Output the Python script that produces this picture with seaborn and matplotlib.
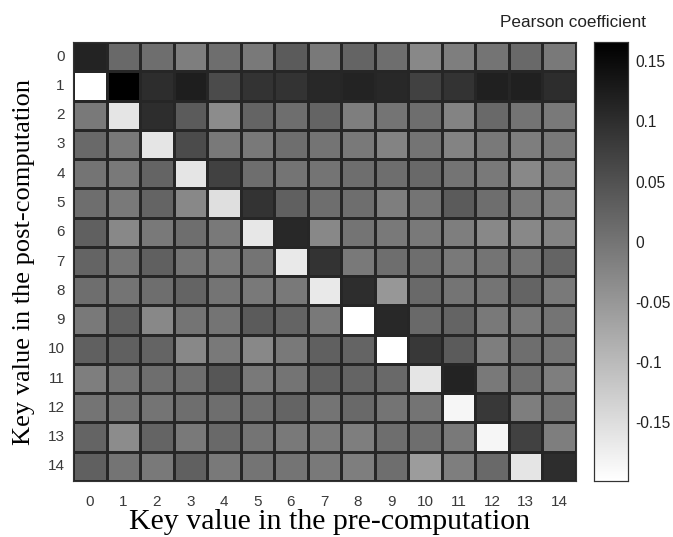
import numpy as np
import pandas as pd
import matplotlib
matplotlib.use("Agg")
import matplotlib.pyplot as plt
import seaborn as sns

# ---- data (Pearson coefficient, rows = post-computation key, cols = pre-computation key)
pre_keys = [str(i) for i in range(15)]
post_keys = [str(i) for i in range(15)]

row_00 = [0.115, 0.015, 0.008, -0.014, 0.008, -0.007, 0.036, -0.007, 0.022, 0.008, -0.028, -0.014, 0.000, 0.015, -0.007]
row_01 = [-0.200, 0.165, 0.101, 0.122, 0.058, 0.093, 0.093, 0.108, 0.115, 0.108, 0.072, 0.093, 0.119, 0.119, 0.101]
row_02 = [-0.007, -0.161, 0.101, 0.036, -0.035, 0.022, 0.008, 0.022, -0.014, 0.000, 0.008, -0.021, 0.015, 0.000, -0.007]
row_03 = [0.015, -0.007, -0.161, 0.058, -0.007, -0.007, 0.008, 0.000, -0.007, -0.021, 0.000, -0.021, -0.007, -0.014, -0.007]
row_04 = [0.000, -0.007, 0.022, -0.161, 0.072, 0.008, 0.000, 0.000, 0.008, 0.008, 0.015, 0.000, -0.007, -0.028, -0.014]
row_05 = [0.008, -0.007, 0.022, -0.028, -0.153, 0.093, 0.029, 0.008, 0.008, -0.014, 0.000, 0.036, 0.008, -0.007, -0.014]
row_06 = [0.029, -0.028, -0.007, 0.008, -0.007, -0.164, 0.108, -0.028, 0.000, -0.007, -0.007, -0.014, -0.028, -0.028, -0.021]
row_07 = [0.022, 0.000, 0.029, 0.000, -0.007, 0.000, -0.167, 0.093, -0.007, 0.008, 0.008, -0.007, 0.000, 0.000, 0.022]
row_08 = [0.008, 0.000, 0.008, 0.022, 0.000, -0.007, -0.007, -0.167, 0.101, -0.050, 0.015, 0.000, 0.000, 0.022, -0.007]
row_09 = [-0.007, 0.029, -0.028, 0.000, 0.000, 0.036, 0.022, -0.007, -0.200, 0.108, 0.015, 0.022, -0.007, -0.007, 0.000]
row_10 = [0.029, 0.029, 0.022, -0.028, -0.007, -0.028, -0.007, 0.029, 0.022, -0.200, 0.086, 0.036, -0.014, 0.008, 0.000]
row_11 = [-0.014, 0.000, 0.008, 0.008, 0.043, -0.007, 0.000, 0.029, 0.022, 0.015, -0.161, 0.115, -0.007, 0.008, -0.014]
row_12 = [0.000, 0.000, 0.000, 0.008, 0.008, 0.008, 0.022, 0.000, 0.015, 0.000, 0.000, -0.186, 0.086, -0.014, 0.000]
row_13 = [0.022, -0.035, 0.022, -0.007, 0.015, 0.000, -0.007, -0.007, -0.014, 0.008, 0.008, -0.007, -0.186, 0.072, -0.014]
row_14 = [0.029, 0.000, -0.007, 0.029, -0.007, 0.000, 0.000, -0.007, -0.014, 0.008, -0.057, -0.014, 0.015, -0.161, 0.101]

cbar_ticks = [-0.15, -0.1, -0.05, 0, 0.05, 0.1, 0.15]
cbar_ticklabels = ["-0.15", "-0.1", "-0.05", "0", "0.05", "0.1", "0.15"]

rows = [row_00, row_01, row_02, row_03, row_04, row_05, row_06, row_07,
        row_08, row_09, row_10, row_11, row_12, row_13, row_14]
df = pd.DataFrame(rows, index=post_keys, columns=pre_keys)

sns.set_theme(style="white")
plt.rcParams["font.family"] = ["Liberation Sans", "DejaVu Sans"]

W, H = 673, 537
fig = plt.figure(figsize=(W / 100, H / 100), dpi=100)
ax = fig.add_axes([73 / W, 1 - 481 / H, (576 - 73) / W, (481 - 42) / H])
cax = fig.add_axes([594 / W, 1 - 481 / H, (628 - 594) / W, (481 - 42) / H])

sns.heatmap(df, ax=ax, cbar_ax=cax, cmap="gray_r", vmin=-0.199, vmax=0.166,
            linewidths=0.8, linecolor="#262626", square=False,
            cbar_kws={"ticks": cbar_ticks})

tick_color = "#3a3a3a"
ax.tick_params(axis="both", length=0, labelsize=11, colors=tick_color)
ax.tick_params(axis="x", pad=10)
ax.tick_params(axis="y", pad=6)
ax.set_yticklabels(post_keys, rotation=0)
ax.set_xticklabels(pre_keys, rotation=0)
ax.set_xlabel("")
ax.set_ylabel("")
for s in ax.spines.values():
    s.set_visible(True)
    s.set_color("#333333")
    s.set_linewidth(0.8)

cax.set_yticks(cbar_ticks)
cax.set_yticklabels(cbar_ticklabels)
cax.tick_params(axis="y", direction="in", length=3, width=0.6, color="#555555",
                labelsize=11.2, labelcolor="#222222", pad=5)
for s in cax.spines.values():
    s.set_visible(True)
    s.set_color("#333333")
    s.set_linewidth(0.8)

fig.text(573 / W, 1 - 22.5 / H, "Pearson coefficient", ha="center", va="center",
         fontsize=12.3, color="#222222")

fig.text(330 / W, 1 - 529 / H, "Key value in the pre-computation", ha="center",
         va="baseline", fontsize=21.5, family=["Liberation Serif", "DejaVu Serif"],
         color="black")
fig.text(24 / W, 1 - 262 / H, "Key value in the post-computation", ha="center",
         va="center", rotation=90, fontsize=19,
         family=["Liberation Serif", "DejaVu Serif"], color="black")

fig.savefig("out.png", dpi=100)
